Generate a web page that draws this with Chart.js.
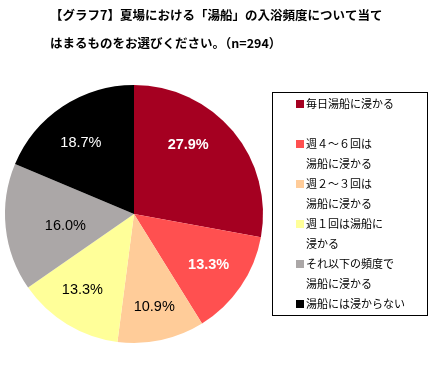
<!DOCTYPE html>
<html><head><meta charset="utf-8">
<script src="https://cdn.jsdelivr.net/npm/chart.js@4/dist/chart.umd.min.js"></script>
<style>html,body{margin:0;padding:0;background:#fff;}#wrap{width:435px;height:366px;}</style>
</head><body><div id="wrap"><canvas id="c" width="435" height="366"></canvas></div>
<script>
const titleLines = ['【グラフ7】夏場における「湯船」の入浴頻度について当て', 'はまるものをお選びください。（n=294）'];
const categories = ['毎日湯船に浸かる', '週４～６回は湯船に浸かる', '週２～３回は湯船に浸かる', '週１回は湯船に浸かる', 'それ以下の頻度で湯船に浸かる', '湯船には浸からない'];
const legendLines = [['毎日湯船に浸かる', ''], ['週４～６回は', '湯船に浸かる'], ['週２～３回は', '湯船に浸かる'], ['週１回は湯船に', '浸かる'], ['それ以下の頻度で', '湯船に浸かる'], ['湯船には浸からない']];
const values = [27.9, 13.3, 10.9, 13.3, 16.0, 18.7];
const colors = ['#A50021', '#FF5050', '#FFCC99', '#FFFF99', '#ABA7A7', '#000000'];
const labelColors = ['#fff', '#fff', '#000', '#000', '#000', '#fff'];
const labelBold = [true, true, false, false, false, false];

// label placement style: [angle shift in degrees, radius fraction]
const labelStyle = [[-12, 0.68], [0, 0.7], [0, 0.74], [3, 0.71], [-4, 0.54], [-3, 0.69]];

const overlay = {
  id: 'overlay',
  afterDraw(chart) {
    const ctx = chart.ctx;
    ctx.save();
    ctx.fillStyle = '#000';
    ctx.font = 'bold 12.5px "Noto Sans CJK JP"';
    ctx.textBaseline = 'middle';
    ctx.textAlign = 'left';
    ctx.fillText(titleLines[0], 50, 15);
    ctx.fillText(titleLines[1], 50, 43);
    const meta = chart.getDatasetMeta(0);
    meta.data.forEach((arc, i) => {
      const p = arc.getProps(['x', 'y', 'startAngle', 'endAngle', 'outerRadius'], true);
      const mid = (p.startAngle + p.endAngle) / 2 + labelStyle[i][0] * Math.PI / 180;
      const r = p.outerRadius * labelStyle[i][1];
      ctx.font = (labelBold[i] ? 'bold ' : '') + '14.5px "Liberation Sans"';
      ctx.fillStyle = labelColors[i];
      ctx.textAlign = 'center';
      ctx.fillText(values[i].toFixed(1) + '%', p.x + Math.cos(mid) * r, p.y + Math.sin(mid) * r);
    });
    ctx.strokeStyle = '#000';
    ctx.lineWidth = 1;
    ctx.strokeRect(272.5, 92.5, 155, 223);
    ctx.font = '11px "Noto Sans CJK JP"';
    ctx.textAlign = 'left';
    let y = 104;
    legendLines.forEach((lines, i) => {
      ctx.fillStyle = colors[i];
      ctx.fillRect(296, y - 4, 8, 8);
      ctx.fillStyle = '#000';
      lines.forEach(t => { ctx.fillText(t, 306, y); y += 20; });
    });
    ctx.restore();
  }
};

new Chart(document.getElementById('c'), {
  type: 'pie',
  data: { labels: categories, datasets: [{ data: values, backgroundColor: colors, borderWidth: 0 }] },
  options: {
    responsive: false, animation: false,
    layout: { padding: { left: 5, right: 172, top: 85, bottom: 23 } },
    plugins: { legend: { display: false }, title: { display: false }, tooltip: { enabled: false } }
  },
  plugins: [overlay]
});
</script></body></html>
